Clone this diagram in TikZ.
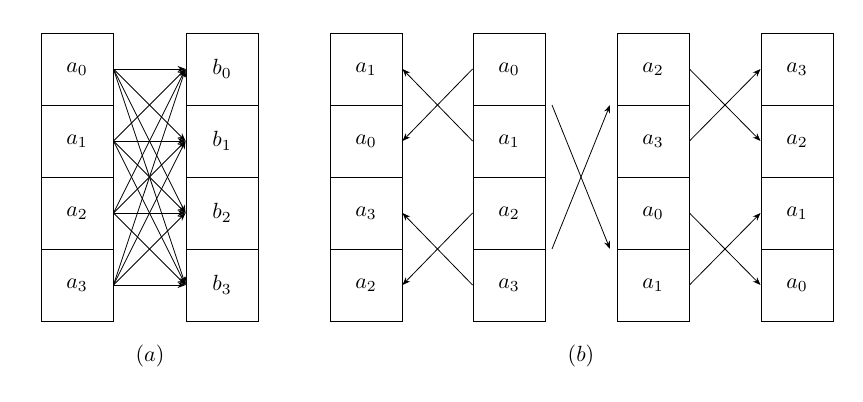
\documentclass[tikz,border=0pt]{standalone}
\usepackage{graphicx}
\usetikzlibrary{arrows.meta}
\begin{document}
\begin{tikzpicture}[x=1pt,y=-1pt,
  cell/.style={draw,line width=0.9pt,minimum width=72pt,minimum height=72pt,inner sep=0pt},
  arr/.style={-{Stealth[length=8pt,width=6pt]},line width=0.8pt},
  lab/.style={inner sep=0pt}]
\useasboundingbox (0,0) rectangle (863,402);
% columns
\foreach \c/\x/\labs in {1/77/{a_0,a_1,a_2,a_3},2/222/{b_0,b_1,b_2,b_3},3/366/{a_1,a_0,a_3,a_2},4/509/{a_0,a_1,a_2,a_3},5/653/{a_2,a_3,a_0,a_1},6/797/{a_3,a_2,a_1,a_0}}{
  \foreach \l [count=\r from 0] in \labs {
    \node[cell] (c\c-\r) at (\x,{69+72*\r}) {\scalebox{2.2}{$\l$}};
  }
}
% (a) all to all
\foreach \i in {0,...,3}{
  \foreach \j in {0,...,3}{
    \draw[arr] (c1-\i.east) -- (c2-\j.west);
  }
}
% (b) first butterfly
\draw[arr] (c4-0.west) -- (c3-1.east);
\draw[arr] (c4-1.west) -- (c3-0.east);
\draw[arr] (c4-2.west) -- (c3-3.east);
\draw[arr] (c4-3.west) -- (c3-2.east);
% middle crossing
\coordinate (m1) at (552,105);
\coordinate (m2) at (610,249);
\coordinate (m3) at (552,249);
\coordinate (m4) at (610,105);
\draw[arr] (m1) -- (m2);
\draw[arr] (m3) -- (m4);
% second butterfly
\draw[arr] (c5-0.east) -- (c6-1.west);
\draw[arr] (c5-1.east) -- (c6-0.west);
\draw[arr] (c5-2.east) -- (c6-3.west);
\draw[arr] (c5-3.east) -- (c6-2.west);
% labels
\node[lab] (la) at (150,356) {\scalebox{2.2}{$(a)$}};
\node[lab] (lb) at (581,356) {\scalebox{2.2}{$(b)$}};
\end{tikzpicture}
\end{document}
